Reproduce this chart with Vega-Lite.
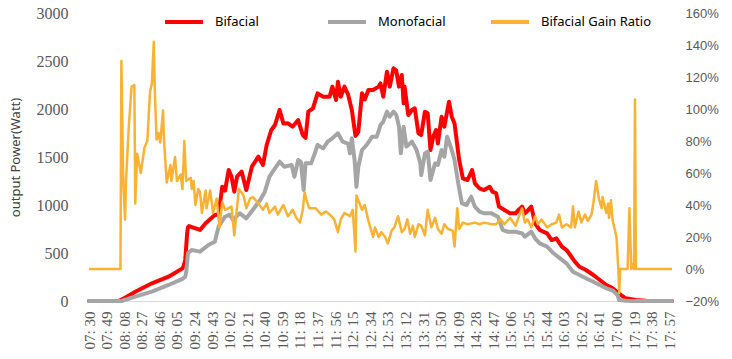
{
"$schema":"https://vega.github.io/schema/vega-lite/v6.json",
"width":583,"height":288,
"autosize":{"type":"none"},
"padding":{"left":89,"top":13,"right":60,"bottom":58},
"background":"#ffffff",
"datasets":{
"bif":[{"t":"07:30","v":0},{"t":"08:02","v":0},{"t":"08:10","v":40},{"t":"08:20","v":97},{"t":"08:38","v":184},{"t":"08:56","v":253},{"t":"09:11","v":340},{"t":"09:12","v":357},{"t":"09:14","v":427},{"t":"09:16","v":700},{"t":"09:17","v":770},{"t":"09:18","v":780},{"t":"09:30","v":740},{"t":"09:36","v":809},{"t":"09:46","v":896},{"t":"09:50","v":900},{"t":"09:54","v":1190},{"t":"09:57","v":1150},{"t":"10:01","v":1365},{"t":"10:04","v":1295},{"t":"10:07","v":1139},{"t":"10:10","v":1295},{"t":"10:15","v":1347},{"t":"10:20","v":1156},{"t":"10:26","v":1399},{"t":"10:33","v":1503},{"t":"10:38","v":1417},{"t":"10:42","v":1625},{"t":"10:47","v":1781},{"t":"10:51","v":1833},{"t":"10:56","v":1990},{"t":"11:00","v":1850},{"t":"11:05","v":1851},{"t":"11:10","v":1816},{"t":"11:16","v":1885},{"t":"11:21","v":1729},{"t":"11:24","v":1700},{"t":"11:27","v":1972},{"t":"11:32","v":2007},{"t":"11:37","v":2163},{"t":"11:43","v":2128},{"t":"11:50","v":2128},{"t":"11:53","v":2233},{"t":"11:57","v":2093},{"t":"11:59","v":2285},{"t":"12:02","v":2128},{"t":"12:06","v":2233},{"t":"12:10","v":2150},{"t":"12:14","v":1990},{"t":"12:18","v":1720},{"t":"12:21","v":1760},{"t":"12:25","v":2163},{"t":"12:28","v":2100},{"t":"12:32","v":2198},{"t":"12:37","v":2198},{"t":"12:43","v":2233},{"t":"12:45","v":2267},{"t":"12:48","v":2128},{"t":"12:52","v":2389},{"t":"12:55","v":2233},{"t":"12:59","v":2424},{"t":"13:02","v":2400},{"t":"13:05","v":2233},{"t":"13:08","v":2354},{"t":"13:10","v":2059},{"t":"13:11","v":2233},{"t":"13:15","v":1938},{"t":"13:19","v":1990},{"t":"13:22","v":2007},{"t":"13:26","v":1747},{"t":"13:29","v":1730},{"t":"13:33","v":1972},{"t":"13:36","v":1955},{"t":"13:39","v":1573},{"t":"13:42","v":1712},{"t":"13:45","v":1781},{"t":"13:47","v":1640},{"t":"13:51","v":1920},{"t":"13:54","v":1816},{"t":"13:59","v":2076},{"t":"14:02","v":1920},{"t":"14:05","v":1850},{"t":"14:10","v":1469},{"t":"14:14","v":1278},{"t":"14:19","v":1260},{"t":"14:24","v":1365},{"t":"14:27","v":1226},{"t":"14:32","v":1174},{"t":"14:37","v":1156},{"t":"14:43","v":1190},{"t":"14:46","v":1139},{"t":"14:50","v":1122},{"t":"14:53","v":983},{"t":"14:59","v":948},{"t":"15:05","v":913},{"t":"15:11","v":913},{"t":"15:14","v":948},{"t":"15:18","v":983},{"t":"15:21","v":913},{"t":"15:23","v":930},{"t":"15:28","v":983},{"t":"15:32","v":809},{"t":"15:37","v":740},{"t":"15:45","v":705},{"t":"15:50","v":635},{"t":"15:55","v":653},{"t":"16:01","v":566},{"t":"16:06","v":531},{"t":"16:10","v":479},{"t":"16:15","v":410},{"t":"16:20","v":357},{"t":"16:27","v":323},{"t":"16:35","v":271},{"t":"16:42","v":219},{"t":"16:49","v":167},{"t":"16:56","v":132},{"t":"17:01","v":90},{"t":"17:05","v":62},{"t":"17:10","v":28},{"t":"17:21","v":10},{"t":"17:32","v":3},{"t":"17:42","v":0},{"t":"18:00","v":0}],
"mono":[{"t":"07:30","v":0},{"t":"08:05","v":0},{"t":"08:20","v":45},{"t":"08:38","v":97},{"t":"08:56","v":167},{"t":"09:11","v":230},{"t":"09:14","v":253},{"t":"09:15","v":300},{"t":"09:17","v":500},{"t":"09:21","v":531},{"t":"09:30","v":514},{"t":"09:39","v":583},{"t":"09:46","v":618},{"t":"09:50","v":774},{"t":"09:57","v":878},{"t":"10:02","v":900},{"t":"10:07","v":826},{"t":"10:08","v":870},{"t":"10:13","v":913},{"t":"10:20","v":861},{"t":"10:27","v":948},{"t":"10:35","v":1052},{"t":"10:40","v":1139},{"t":"10:45","v":1295},{"t":"10:51","v":1382},{"t":"10:56","v":1451},{"t":"11:01","v":1399},{"t":"11:09","v":1416},{"t":"11:12","v":1295},{"t":"11:16","v":1469},{"t":"11:19","v":1450},{"t":"11:22","v":1156},{"t":"11:24","v":1434},{"t":"11:30","v":1434},{"t":"11:34","v":1538},{"t":"11:37","v":1625},{"t":"11:43","v":1590},{"t":"11:48","v":1660},{"t":"11:53","v":1695},{"t":"11:59","v":1747},{"t":"12:04","v":1660},{"t":"12:10","v":1640},{"t":"12:12","v":1538},{"t":"12:14","v":1695},{"t":"12:17","v":1469},{"t":"12:19","v":1190},{"t":"12:21","v":1399},{"t":"12:25","v":1573},{"t":"12:30","v":1625},{"t":"12:36","v":1712},{"t":"12:41","v":1712},{"t":"12:45","v":1833},{"t":"12:48","v":1868},{"t":"12:52","v":1972},{"t":"12:55","v":1920},{"t":"12:59","v":1972},{"t":"13:02","v":1940},{"t":"13:05","v":1816},{"t":"13:07","v":1538},{"t":"13:10","v":1816},{"t":"13:13","v":1608},{"t":"13:19","v":1660},{"t":"13:24","v":1573},{"t":"13:28","v":1434},{"t":"13:29","v":1312},{"t":"13:33","v":1538},{"t":"13:36","v":1556},{"t":"13:39","v":1260},{"t":"13:44","v":1434},{"t":"13:47","v":1416},{"t":"13:51","v":1573},{"t":"13:54","v":1503},{"t":"13:57","v":1712},{"t":"14:02","v":1573},{"t":"14:05","v":1469},{"t":"14:09","v":1226},{"t":"14:13","v":1017},{"t":"14:18","v":1000},{"t":"14:23","v":1087},{"t":"14:27","v":983},{"t":"14:32","v":930},{"t":"14:37","v":913},{"t":"14:45","v":913},{"t":"14:52","v":878},{"t":"14:57","v":740},{"t":"15:02","v":722},{"t":"15:11","v":722},{"t":"15:18","v":705},{"t":"15:21","v":670},{"t":"15:28","v":722},{"t":"15:32","v":653},{"t":"15:37","v":601},{"t":"15:45","v":566},{"t":"15:52","v":497},{"t":"15:59","v":444},{"t":"16:06","v":392},{"t":"16:13","v":305},{"t":"16:20","v":271},{"t":"16:27","v":236},{"t":"16:35","v":201},{"t":"16:42","v":167},{"t":"16:49","v":132},{"t":"16:56","v":108},{"t":"17:01","v":62},{"t":"17:03","v":10},{"t":"17:10","v":3},{"t":"17:17","v":0},{"t":"18:00","v":0}],
"gain":[{"t":"07:30","v":0},{"t":"08:04","v":0},{"t":"08:05","v":1.30},{"t":"08:07","v":0.54},{"t":"08:09","v":0.31},{"t":"08:10","v":0.55},{"t":"08:13","v":0.89},{"t":"08:16","v":1.14},{"t":"08:19","v":1.15},{"t":"08:20","v":0.41},{"t":"08:22","v":0.72},{"t":"08:26","v":0.60},{"t":"08:30","v":0.76},{"t":"08:33","v":0.80},{"t":"08:36","v":1.11},{"t":"08:38","v":1.16},{"t":"08:40","v":1.42},{"t":"08:41","v":1.14},{"t":"08:43","v":0.81},{"t":"08:45","v":0.85},{"t":"08:47","v":0.79},{"t":"08:50","v":0.99},{"t":"08:51","v":0.81},{"t":"08:54","v":0.54},{"t":"08:58","v":0.65},{"t":"08:59","v":0.55},{"t":"09:03","v":0.70},{"t":"09:05","v":0.55},{"t":"09:09","v":0.59},{"t":"09:11","v":0.50},{"t":"09:13","v":0.80},{"t":"09:15","v":0.55},{"t":"09:20","v":0.57},{"t":"09:21","v":0.50},{"t":"09:23","v":0.55},{"t":"09:25","v":0.40},{"t":"09:28","v":0.50},{"t":"09:30","v":0.48},{"t":"09:32","v":0.35},{"t":"09:36","v":0.49},{"t":"09:37","v":0.38},{"t":"09:41","v":0.49},{"t":"09:44","v":0.35},{"t":"09:48","v":0.44},{"t":"09:51","v":0.26},{"t":"09:54","v":0.42},{"t":"09:57","v":0.37},{"t":"10:04","v":0.39},{"t":"10:07","v":0.21},{"t":"10:10","v":0.39},{"t":"10:12","v":0.50},{"t":"10:17","v":0.46},{"t":"10:20","v":0.38},{"t":"10:24","v":0.44},{"t":"10:27","v":0.45},{"t":"10:33","v":0.41},{"t":"10:38","v":0.37},{"t":"10:42","v":0.41},{"t":"10:45","v":0.35},{"t":"10:51","v":0.39},{"t":"10:54","v":0.34},{"t":"11:00","v":0.40},{"t":"11:05","v":0.33},{"t":"11:10","v":0.37},{"t":"11:14","v":0.32},{"t":"11:18","v":0.29},{"t":"11:21","v":0.37},{"t":"11:23","v":0.48},{"t":"11:25","v":0.43},{"t":"11:28","v":0.38},{"t":"11:35","v":0.38},{"t":"11:41","v":0.34},{"t":"11:46","v":0.36},{"t":"11:52","v":0.33},{"t":"11:55","v":0.31},{"t":"11:59","v":0.23},{"t":"12:02","v":0.31},{"t":"12:06","v":0.35},{"t":"12:12","v":0.33},{"t":"12:15","v":0.37},{"t":"12:18","v":0.11},{"t":"12:19","v":0.46},{"t":"12:25","v":0.37},{"t":"12:28","v":0.40},{"t":"12:32","v":0.30},{"t":"12:37","v":0.20},{"t":"12:39","v":0.26},{"t":"12:43","v":0.20},{"t":"12:46","v":0.23},{"t":"12:50","v":0.20},{"t":"12:53","v":0.16},{"t":"12:57","v":0.24},{"t":"13:00","v":0.26},{"t":"13:04","v":0.33},{"t":"13:08","v":0.23},{"t":"13:11","v":0.25},{"t":"13:14","v":0.31},{"t":"13:17","v":0.22},{"t":"13:20","v":0.27},{"t":"13:22","v":0.20},{"t":"13:26","v":0.28},{"t":"13:29","v":0.27},{"t":"13:33","v":0.21},{"t":"13:36","v":0.37},{"t":"13:40","v":0.26},{"t":"13:44","v":0.32},{"t":"13:47","v":0.25},{"t":"13:51","v":0.22},{"t":"13:54","v":0.28},{"t":"13:58","v":0.25},{"t":"14:03","v":0.24},{"t":"14:05","v":0.14},{"t":"14:08","v":0.38},{"t":"14:10","v":0.25},{"t":"14:14","v":0.29},{"t":"14:19","v":0.28},{"t":"14:27","v":0.29},{"t":"14:32","v":0.28},{"t":"14:37","v":0.29},{"t":"14:45","v":0.28},{"t":"14:50","v":0.28},{"t":"14:55","v":0.31},{"t":"14:59","v":0.28},{"t":"15:05","v":0.32},{"t":"15:11","v":0.27},{"t":"15:14","v":0.32},{"t":"15:18","v":0.38},{"t":"15:21","v":0.29},{"t":"15:24","v":0.31},{"t":"15:28","v":0.26},{"t":"15:32","v":0.33},{"t":"15:35","v":0.28},{"t":"15:39","v":0.31},{"t":"15:45","v":0.26},{"t":"15:50","v":0.28},{"t":"15:55","v":0.29},{"t":"15:58","v":0.34},{"t":"16:01","v":0.26},{"t":"16:06","v":0.28},{"t":"16:11","v":0.26},{"t":"16:13","v":0.39},{"t":"16:15","v":0.26},{"t":"16:19","v":0.36},{"t":"16:22","v":0.29},{"t":"16:26","v":0.34},{"t":"16:29","v":0.30},{"t":"16:33","v":0.34},{"t":"16:35","v":0.41},{"t":"16:38","v":0.55},{"t":"16:41","v":0.44},{"t":"16:44","v":0.38},{"t":"16:45","v":0.45},{"t":"16:49","v":0.35},{"t":"16:51","v":0.41},{"t":"16:52","v":0.32},{"t":"16:54","v":0.43},{"t":"16:56","v":0.30},{"t":"17:00","v":0.20},{"t":"17:02","v":0.0},{"t":"17:03","v":-0.15},{"t":"17:04","v":0},{"t":"17:12","v":0},{"t":"17:14","v":0.38},{"t":"17:16","v":0},{"t":"17:17","v":0.03},{"t":"17:19","v":0},{"t":"17:20","v":1.06},{"t":"17:21","v":0},{"t":"18:00","v":0}]
},
"encoding":{
"x":{"field":"t","type":"temporal",
"scale":{"type":"utc","nice":false,"domain":[{"year":1900,"month":1,"date":1,"hours":7,"minutes":30,"utc":true},{"year":1900,"month":1,"date":1,"hours":18,"minutes":0,"utc":true}]},
"axis":{"title":null,"format":"%H: %M","labelAngle":-90,"labelFont":"Liberation Serif","labelFontSize":15,"labelColor":"#595959","ticks":false,"grid":false,"domainColor":"#D9D9D9","domainWidth":1,"labelPadding":10,"labelOverlap":false,"labelBound":false,"labelFlush":false,
"values":[
{"year":1900,"month":1,"date":1,"hours":7,"minutes":30,"utc":true},
{"year":1900,"month":1,"date":1,"hours":7,"minutes":49,"utc":true},
{"year":1900,"month":1,"date":1,"hours":8,"minutes":8,"utc":true},
{"year":1900,"month":1,"date":1,"hours":8,"minutes":27,"utc":true},
{"year":1900,"month":1,"date":1,"hours":8,"minutes":46,"utc":true},
{"year":1900,"month":1,"date":1,"hours":9,"minutes":5,"utc":true},
{"year":1900,"month":1,"date":1,"hours":9,"minutes":24,"utc":true},
{"year":1900,"month":1,"date":1,"hours":9,"minutes":43,"utc":true},
{"year":1900,"month":1,"date":1,"hours":10,"minutes":2,"utc":true},
{"year":1900,"month":1,"date":1,"hours":10,"minutes":21,"utc":true},
{"year":1900,"month":1,"date":1,"hours":10,"minutes":40,"utc":true},
{"year":1900,"month":1,"date":1,"hours":10,"minutes":59,"utc":true},
{"year":1900,"month":1,"date":1,"hours":11,"minutes":18,"utc":true},
{"year":1900,"month":1,"date":1,"hours":11,"minutes":37,"utc":true},
{"year":1900,"month":1,"date":1,"hours":11,"minutes":56,"utc":true},
{"year":1900,"month":1,"date":1,"hours":12,"minutes":15,"utc":true},
{"year":1900,"month":1,"date":1,"hours":12,"minutes":34,"utc":true},
{"year":1900,"month":1,"date":1,"hours":12,"minutes":53,"utc":true},
{"year":1900,"month":1,"date":1,"hours":13,"minutes":12,"utc":true},
{"year":1900,"month":1,"date":1,"hours":13,"minutes":31,"utc":true},
{"year":1900,"month":1,"date":1,"hours":13,"minutes":50,"utc":true},
{"year":1900,"month":1,"date":1,"hours":14,"minutes":9,"utc":true},
{"year":1900,"month":1,"date":1,"hours":14,"minutes":28,"utc":true},
{"year":1900,"month":1,"date":1,"hours":14,"minutes":47,"utc":true},
{"year":1900,"month":1,"date":1,"hours":15,"minutes":6,"utc":true},
{"year":1900,"month":1,"date":1,"hours":15,"minutes":25,"utc":true},
{"year":1900,"month":1,"date":1,"hours":15,"minutes":44,"utc":true},
{"year":1900,"month":1,"date":1,"hours":16,"minutes":3,"utc":true},
{"year":1900,"month":1,"date":1,"hours":16,"minutes":22,"utc":true},
{"year":1900,"month":1,"date":1,"hours":16,"minutes":41,"utc":true},
{"year":1900,"month":1,"date":1,"hours":17,"minutes":0,"utc":true},
{"year":1900,"month":1,"date":1,"hours":17,"minutes":19,"utc":true},
{"year":1900,"month":1,"date":1,"hours":17,"minutes":38,"utc":true},
{"year":1900,"month":1,"date":1,"hours":17,"minutes":57,"utc":true}
]}}
},
"layer":[
{"encoding":{"y":{"field":"v","type":"quantitative","scale":{"domain":[0,3000],"nice":false,"zero":true},
"axis":{"orient":"left","values":[0,500,1000,1500,2000,2500,3000],"format":"d","domain":false,"ticks":false,"grid":false,"labelFont":"Liberation Serif","labelFontSize":16,"labelColor":"#595959","labelPadding":21,
"title":"output Power(Watt)","titleFont":"Noto Sans","titleFontSize":13,"titleFontWeight":"normal","titleColor":"#404040","titleAngle":-90,"titleX":-74,"titleY":144,"titleAlign":"center","titleBaseline":"middle"}}},
"layer":[
{"data":{"name":"bif","format":{"parse":{"t":"utc:'%H:%M'"}}},
"mark":{"type":"line","strokeWidth":4,"strokeJoin":"round","strokeCap":"round"},
"encoding":{"color":{"datum":"Bifacial","type":"nominal","scale":{"domain":["Bifacial","Monofacial","Bifacial Gain Ratio"],"range":["#FF0000","#A5A5A5","#F9B233"]},"legend":{"title":null}}}},
{"data":{"name":"mono","format":{"parse":{"t":"utc:'%H:%M'"}}},
"mark":{"type":"line","strokeWidth":4,"strokeJoin":"round","strokeCap":"round"},
"encoding":{"color":{"datum":"Monofacial","type":"nominal"}}}
]},
{"data":{"name":"gain","format":{"parse":{"t":"utc:'%H:%M'"}}},
"mark":{"type":"line","strokeWidth":2.5,"strokeJoin":"round"},
"encoding":{"y":{"field":"v","type":"quantitative","scale":{"domain":[-0.2,1.6],"nice":false,"zero":false},
"axis":{"orient":"right","values":[-0.2,0,0.2,0.4,0.6,0.8,1.0,1.2,1.4,1.6],"format":".0%","domain":false,"ticks":false,"grid":false,"labelFont":"Liberation Sans","labelFontSize":13,"labelColor":"#595959","labelPadding":13,"title":null}},
"color":{"datum":"Bifacial Gain Ratio","type":"nominal"}}}
],
"resolve":{"scale":{"y":"independent"}},
"config":{
"view":{"stroke":null},
"legend":{"orient":"none","legendX":74,"legendY":-12,"direction":"horizontal","columns":3,"gridAlign":"all","columnPadding":-6,"padding":0,"symbolType":"stroke","symbolSize":1444,"symbolStrokeWidth":4,"labelFont":"Noto Sans","labelFontSize":13,"labelColor":"#000000","labelOffset":10}
}
}
